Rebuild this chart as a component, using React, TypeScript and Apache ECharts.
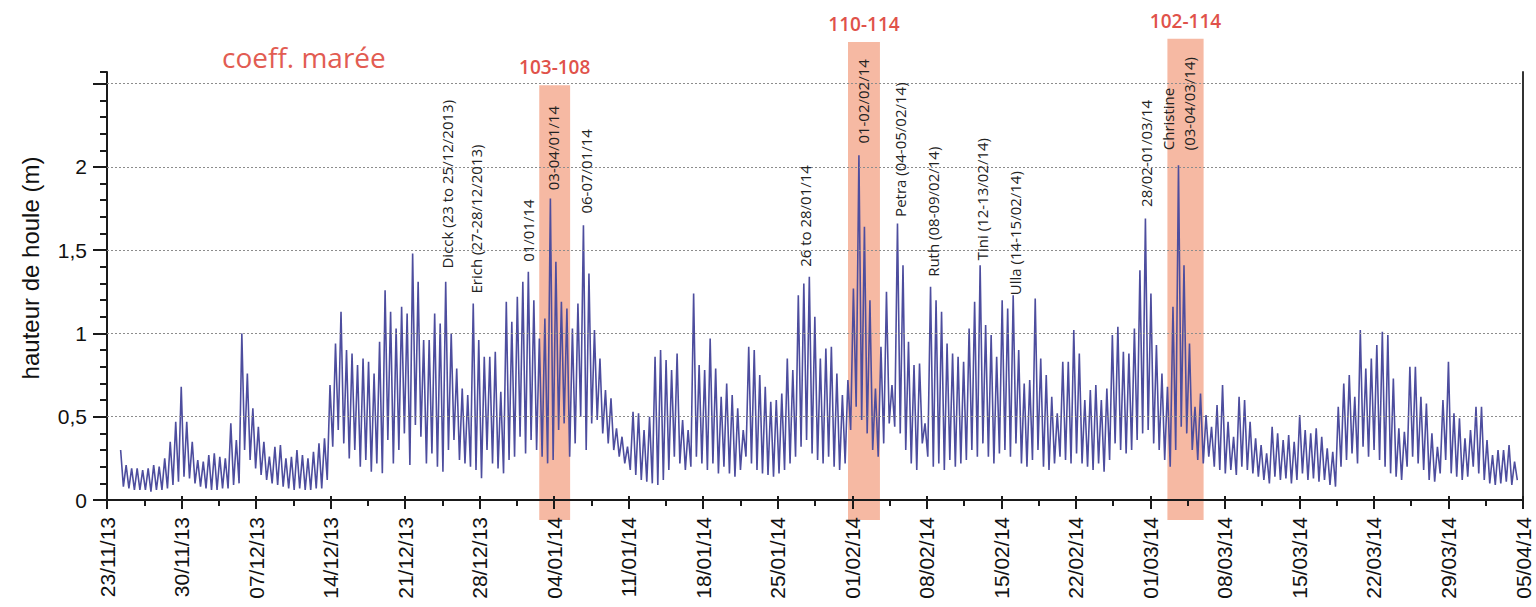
import React, { useEffect, useRef } from 'react';
import * as echarts from 'echarts';

// Time origin: 23/11/2013 (day 0) -> 05/04/2014 (day 133)
const dayCount = 133;
const weekStep = 7;
const firstPeakDay = 1.28;
const tidalPeriodDays = 0.5175;

// Successive wave-height peaks (m), one per tide
const peaks = [
  0.30, 0.21, 0.19, 0.19, 0.18, 0.19, 0.21, 0.20, 0.25, 0.35,
  0.47, 0.68, 0.47, 0.35, 0.24, 0.23, 0.27, 0.28, 0.26, 0.25,
  0.46, 0.36, 1.00, 0.76, 0.55, 0.44, 0.35, 0.26, 0.32, 0.33,
  0.25, 0.26, 0.30, 0.27, 0.25, 0.29, 0.34, 0.37, 0.69, 0.94,
  1.13, 0.90, 0.88, 0.81, 0.85, 0.83, 0.76, 0.95, 1.26, 1.13,
  1.03, 1.16, 1.12, 1.48, 1.31, 0.96, 0.96, 1.12, 1.06, 1.31,
  1.00, 0.79, 0.67, 0.63, 1.18, 0.96, 0.86, 0.86, 0.89, 0.65,
  1.19, 1.07, 1.22, 1.31, 1.37, 1.20, 0.97, 1.09, 1.81, 1.43,
  1.19, 1.15, 1.03, 1.18, 1.65, 1.36, 1.02, 0.85, 0.66, 0.61,
  0.43, 0.38, 0.32, 0.53, 0.52, 0.42, 0.50, 0.86, 0.90, 0.84,
  0.78, 0.88,
  0.48, 0.42, 1.24, 0.81, 0.78, 0.97, 0.79, 0.62, 0.70, 0.63,
  0.55, 0.42, 0.92, 0.90, 0.75, 0.68, 0.59, 0.60, 0.64, 0.85,
  0.78, 1.23, 1.30, 1.34, 1.10, 0.85, 0.91, 0.92, 0.76, 0.63,
  0.72, 1.27, 2.07, 1.64, 1.20, 0.67, 0.92, 1.25, 0.69, 1.66,
  1.41, 0.95, 0.81, 0.82, 0.46, 1.28, 1.20, 1.13, 0.94, 0.88,
  0.86,
  0.83, 1.03, 1.19, 1.41, 1.05, 0.99, 0.86, 1.20, 1.15, 1.23,
  0.90, 0.70, 0.72, 1.21, 0.85, 0.75, 0.62, 0.52, 0.83, 0.83,
  1.02, 0.88, 0.60, 0.66, 0.69, 0.60, 0.67, 0.99, 1.04, 0.89,
  0.88, 1.03, 1.38, 1.69, 1.24, 0.93, 0.76, 0.68, 1.16, 2.01,
  1.41, 0.94, 0.56, 0.64, 0.51, 0.44, 0.57, 0.69, 0.47, 0.38,
  0.62, 0.60,
  0.47, 0.37, 0.33, 0.28, 0.44, 0.40, 0.36, 0.39, 0.35, 0.51,
  0.42, 0.40, 0.43, 0.38, 0.31, 0.29, 0.56, 0.70, 0.75, 0.62,
  1.02, 0.79, 0.85, 0.93, 1.01, 0.99, 0.73, 0.43, 0.41, 0.80,
  0.80, 0.62, 0.58, 0.40, 0.32, 0.60, 0.83, 0.52, 0.49, 0.37,
  0.42, 0.56, 0.56, 0.36, 0.27, 0.30, 0.30, 0.33, 0.23,
];

// Minimum between successive peaks (m)
const troughs = [
  0.08, 0.07, 0.06, 0.06, 0.06, 0.05, 0.06, 0.06, 0.07, 0.09,
  0.11, 0.14, 0.13, 0.10, 0.08, 0.07, 0.06, 0.06, 0.07, 0.07,
  0.09, 0.10, 0.30, 0.24, 0.19, 0.15, 0.12, 0.10, 0.09, 0.08,
  0.07, 0.06, 0.07, 0.06, 0.06, 0.07, 0.07, 0.12, 0.32, 0.42,
  0.34, 0.25, 0.30, 0.20, 0.24, 0.17, 0.22, 0.16, 0.36, 0.22,
  0.30, 0.40, 0.21, 0.45, 0.38, 0.22, 0.28, 0.20, 0.17, 0.30,
  0.36, 0.24, 0.22, 0.20, 0.18, 0.13, 0.30, 0.22, 0.19, 0.16,
  0.24, 0.26, 0.38, 0.28, 0.36, 0.30, 0.26, 0.22, 0.24, 0.42,
  0.46, 0.26, 0.34, 0.50, 0.30, 0.46, 0.48, 0.40, 0.34, 0.30,
  0.26, 0.22, 0.18, 0.15, 0.12, 0.11, 0.10, 0.09, 0.12, 0.18,
  0.26, 0.22,
  0.18, 0.20, 0.26, 0.22, 0.18, 0.22, 0.16, 0.20, 0.16, 0.14,
  0.18, 0.26, 0.22, 0.18, 0.16, 0.15, 0.14, 0.16, 0.18, 0.22,
  0.26, 0.32, 0.36, 0.28, 0.24, 0.22, 0.26, 0.20, 0.18, 0.22,
  0.42, 0.56, 0.48, 0.40, 0.30, 0.26, 0.34, 0.46, 0.44, 0.40,
  0.30, 0.22, 0.18, 0.34, 0.26, 0.20, 0.22, 0.18, 0.24, 0.20,
  0.22,
  0.24, 0.30, 0.26, 0.34, 0.26, 0.22, 0.28, 0.30, 0.26, 0.34,
  0.22, 0.20, 0.24, 0.30, 0.20, 0.18, 0.22, 0.26, 0.24, 0.22,
  0.28, 0.22, 0.20, 0.18, 0.22, 0.17, 0.24, 0.34, 0.30, 0.28,
  0.30, 0.36, 0.40, 0.42, 0.34, 0.30, 0.24, 0.20, 0.30, 0.44,
  0.40, 0.30, 0.24, 0.22, 0.26, 0.20, 0.18, 0.16, 0.18, 0.15,
  0.20, 0.18,
  0.16, 0.14, 0.12, 0.10, 0.14, 0.12, 0.13, 0.10, 0.12, 0.16,
  0.12, 0.13, 0.11, 0.12, 0.09, 0.08, 0.20, 0.24, 0.28, 0.22,
  0.32, 0.26, 0.30, 0.24, 0.20, 0.16, 0.14, 0.12, 0.20, 0.26,
  0.22, 0.18, 0.12, 0.11, 0.16, 0.24, 0.16, 0.14, 0.12, 0.14,
  0.20, 0.16, 0.12, 0.10, 0.09, 0.10, 0.11, 0.09, 0.12,
];

const yMax = 2.57;
const yMajorStep = 0.5;
const yMinorStep = 0.1;
const yLabelLimit = 2;
const gridValues = [0.5, 1, 1.5, 2, 2.5];

// Spring-tide windows (tidal coefficient)
const bandStart = [40.6, 69.6, 99.6];
const bandEnd = [43.5, 72.6, 103.0];
const bandTop = [2.49, 2.75, 2.77];
const bandBottom = -0.12;
const bandLabels = ['103-108', '110-114', '102-114'];

// Storm annotations
const stormLabels = [
  'Dicck (23 to 25/12/2013)',
  'Erich (27-28/12/2013)',
  '01/01/14',
  '03-04/01/14',
  '06-07/01/14',
  '26 to 28/01/14',
  '01-02/02/14',
  'Petra (04-05/02/14)',
  'Ruth (08-09/02/14)',
  'Tini (12-13/02/14)',
  'Ulla (14-15/02/14)',
  '28/02-01/03/14',
  'Christine\n(03-04/03/14)',
];
const stormDays = [31.9, 34.7, 39.5, 41.9, 45.0, 65.6, 71.0, 74.5, 77.6, 82.2, 85.3, 97.6, 100.6];
const stormBase = [1.39, 1.24, 1.43, 1.86, 1.72, 1.40, 2.14, 1.70, 1.34, 1.44, 1.23, 1.76, 2.10];

const titleText = 'coeff. marée';
const yAxisName = 'hauteur de houle (m)';

function dayToLabel(v: number): string {
  const d = new Date(2013, 10, 23 + Math.round(v));
  const dd = String(d.getDate()).padStart(2, '0');
  const mm = String(d.getMonth() + 1).padStart(2, '0');
  const yy = String(d.getFullYear() % 100).padStart(2, '0');
  return `${dd}/${mm}/${yy}`;
}

export default function App() {
  const ref = useRef<HTMLDivElement>(null);

  useEffect(() => {
    document.body.style.margin = '0';
    if (!ref.current) return;
    const chart = echarts.init(ref.current, undefined, { renderer: 'svg' });

    const waveData: number[][] = [];
    peaks.forEach((p, i) => {
      const t = firstPeakDay + i * tidalPeriodDays;
      waveData.push([t, p]);
      waveData.push([t + tidalPeriodDays / 2, troughs[i]]);
    });

    const bandData = bandStart.map((s, i) => [s, bandEnd[i], bandTop[i]]);
    const stormData = stormDays.map((d, i) => [d, stormBase[i]]);

    const axisColor = '#1a1a1a';
    const labelFont = 'Liberation Sans';
    const tickStyle = { color: axisColor, width: 2 };

    const option: any = {
      animation: false,
      backgroundColor: '#ffffff',
      textStyle: { fontFamily: labelFont },
      grid: { left: 107, right: 13, top: 72, bottom: 107, containLabel: false },
      xAxis: [
        {
          type: 'value',
          min: 0,
          max: dayCount,
          interval: weekStep,
          position: 'bottom',
          z: 4,
          axisLine: { show: true, onZero: false, lineStyle: { color: axisColor, width: 2 } },
          axisTick: { show: true, inside: false, length: 9, lineStyle: tickStyle },
          minorTick: { show: true, splitNumber: 2, length: 6, lineStyle: tickStyle },
          axisLabel: {
            rotate: 90,
            margin: 17,
            fontSize: 21,
            color: '#111',
            fontFamily: labelFont,
            formatter: (v: number) => dayToLabel(v),
          },
          splitLine: { show: false },
          minorSplitLine: { show: false },
        },
        {
          type: 'value',
          min: 0,
          max: dayCount,
          interval: weekStep,
          position: 'bottom',
          z: 4,
          axisLine: { show: false, onZero: false },
          axisTick: { show: true, inside: true, length: 4, lineStyle: tickStyle },
          axisLabel: { show: false },
          splitLine: { show: false },
        },
      ],
      yAxis: [
        {
          type: 'value',
          min: 0,
          max: yMax,
          interval: yMajorStep,
          position: 'left',
          z: 4,
          axisLine: { show: true, onZero: false, lineStyle: { color: axisColor, width: 2 } },
          axisTick: { show: true, inside: false, length: 14, lineStyle: tickStyle },
          axisLabel: {
            margin: 20,
            fontSize: 21,
            color: '#111',
            fontFamily: labelFont,
            showMaxLabel: false,
            formatter: (v: number) => (v > yLabelLimit + 0.01 ? '' : String(v).replace('.', ',')),
          },
          splitLine: { show: false },
        },
        {
          type: 'value',
          min: 0,
          max: yMax,
          interval: yMinorStep,
          position: 'left',
          z: 4,
          axisLine: { show: false, onZero: false },
          axisTick: { show: true, inside: false, length: 7, lineStyle: tickStyle },
          axisLabel: { show: false },
          splitLine: { show: false },
        },
        {
          type: 'value',
          min: 0,
          max: yMax,
          position: 'right',
          z: 4,
          axisLine: { show: true, onZero: false, lineStyle: { color: '#333', width: 2 } },
          axisTick: { show: false },
          axisLabel: { show: false },
          splitLine: { show: false },
        },
      ],
      series: [
        {
          type: 'custom',
          name: 'coeff',
          xAxisIndex: 0,
          yAxisIndex: 0,
          z: 1,
          silent: true,
          clip: false,
          encode: { x: [0, 1], y: 2 },
          data: bandData,
          renderItem: (params: any, api: any) => {
            const p0 = api.coord([api.value(0), api.value(2)]);
            const p1 = api.coord([api.value(1), bandBottom]);
            return {
              type: 'group',
              children: [
                {
                  type: 'rect',
                  shape: { x: p0[0], y: p0[1], width: p1[0] - p0[0], height: p1[1] - p0[1] },
                  style: { fill: '#f6b9a3' },
                },
                {
                  type: 'text',
                  x: (p0[0] + p1[0]) / 2,
                  y: p0[1] - 18,
                  style: {
                    text: bandLabels[params.dataIndex],
                    fill: '#e0524a',
                    fontSize: 19,
                    fontWeight: 600,
                    fontFamily: 'Open Sans',
                    align: 'center',
                    verticalAlign: 'middle',
                  },
                },
              ],
            };
          },
        },
        {
          type: 'line',
          name: 'houle',
          xAxisIndex: 0,
          yAxisIndex: 0,
          z: 3,
          data: waveData,
          showSymbol: false,
          symbol: 'none',
          silent: true,
          lineStyle: { color: '#4d4d9e', width: 1.6 },
          markLine: {
            silent: true,
            symbol: 'none',
            label: { show: false },
            lineStyle: { color: '#8c8c8c', type: [2, 2], width: 1.2 },
            data: gridValues.map((v) => ({ yAxis: v })),
          },
        },
        {
          type: 'custom',
          name: 'storms',
          xAxisIndex: 0,
          yAxisIndex: 0,
          z: 5,
          silent: true,
          clip: false,
          data: stormData,
          renderItem: (params: any, api: any) => {
            const p = api.coord([api.value(0), api.value(1)]);
            return {
              type: 'text',
              x: p[0],
              y: p[1],
              rotation: Math.PI / 2,
              style: {
                text: stormLabels[params.dataIndex],
                fill: '#222',
                fontSize: 15,
                fontFamily: 'Open Sans',
                align: 'left',
                verticalAlign: 'middle',
                lineHeight: 21,
              },
            };
          },
        },
      ],
      graphic: [
        {
          type: 'text',
          x: 222,
          y: 57,
          style: {
            text: titleText,
            fill: '#e25c52',
            fontSize: 28,
            fontFamily: 'Open Sans',
            align: 'left',
            verticalAlign: 'middle',
          },
        },
        {
          type: 'text',
          x: 30,
          y: 268,
          rotation: Math.PI / 2,
          style: {
            text: yAxisName,
            fill: '#111',
            fontSize: 24,
            fontFamily: labelFont,
            align: 'center',
            verticalAlign: 'middle',
          },
        },
      ],
    };

    chart.setOption(option);
    return () => chart.dispose();
  }, []);

  return (
    <div
      ref={ref}
      style={{ position: 'fixed', left: 0, top: 0, width: 1536, height: 607, background: '#fff' }}
    />
  );
}
